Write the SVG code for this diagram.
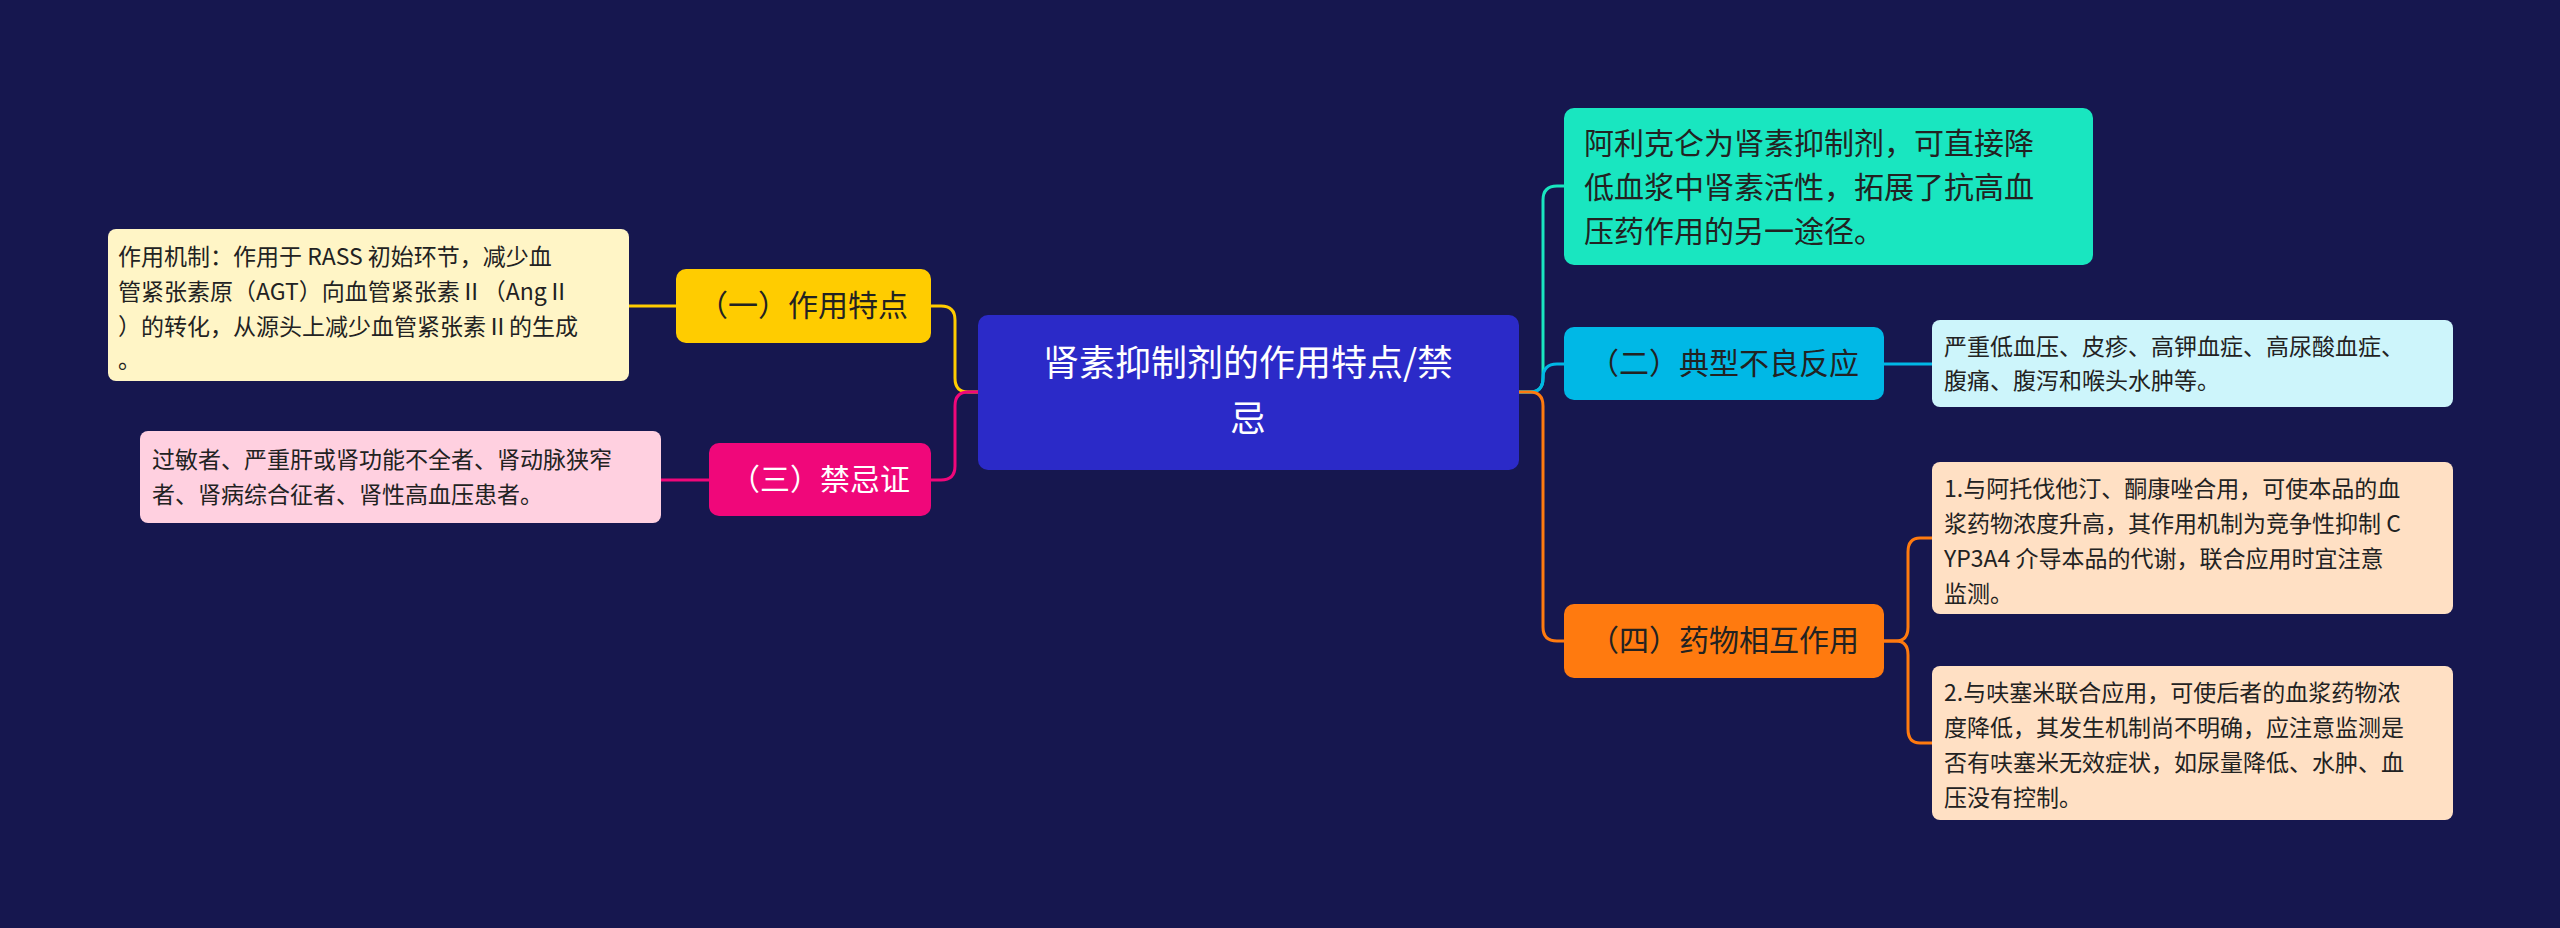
<svg xmlns="http://www.w3.org/2000/svg" width="2560" height="928" viewBox="0 0 2560 928">
<style>
text{font-family:"Noto Sans CJK SC","Noto Sans",sans-serif;}
.m{font-size:30px;fill:#222;}
.l{font-size:23px;fill:#222;}
.c{fill:none;stroke-width:3;}
</style>
<rect width="2560" height="928" fill="#16174f"/>
<g id="connectors">
<path class="c" stroke="#19e6c0" d="M1519,392 H1530 Q1543,392 1543,378 V200 Q1543,186 1557,186 H1564"/>
<path class="c" stroke="#00b8e6" d="M1519,392 H1530 Q1543,392 1543,378 V378 Q1543,364 1557,364 H1564"/>
<path class="c" stroke="#ff7a0f" d="M1519,392 H1530 Q1543,392 1543,406 V627 Q1543,641 1557,641 H1564"/>
<path class="c" stroke="#ffcc00" d="M978,392 H968 Q955,392 955,378 V320 Q955,306 941,306 H931"/>
<path class="c" stroke="#f0077a" d="M978,392 H968 Q955,392 955,406 V466 Q955,480 941,480 H931"/>
<path class="c" stroke="#00b8e6" d="M1884,364 H1932"/>
<path class="c" stroke="#ff7a0f" d="M1884,641 H1896 Q1908,641 1908,627 V552 Q1908,538 1920,538 H1932"/>
<path class="c" stroke="#ff7a0f" d="M1884,641 H1896 Q1908,641 1908,655 V729 Q1908,743 1920,743 H1932"/>
<path class="c" stroke="#ffcc00" d="M676,306 H629"/>
<path class="c" stroke="#f0077a" d="M709,480 H661"/>
</g>
<g id="center"><rect x="978" y="315" width="541" height="155" rx="10" fill="#2b2ac8"/>
<text x="1248" y="376" font-size="36" fill="#fff" text-anchor="middle">肾素抑制剂的作用特点/禁</text>
<text x="1248" y="432" font-size="36" fill="#fff" text-anchor="middle">忌</text></g>
<g id="n1"><rect x="1564" y="108" width="529" height="157" rx="10" fill="#19e6c0"/>
<text class="m" x="1584" y="154">阿利克仑为肾素抑制剂，可直接降</text>
<text class="m" x="1584" y="198">低血浆中肾素活性，拓展了抗高血</text>
<text class="m" x="1584" y="242">压药作用的另一途径。</text></g>
<g id="n2"><rect x="1564" y="327" width="320" height="73" rx="10" fill="#00b8e6"/>
<text class="m" x="1724" y="374" text-anchor="middle">（二）典型不良反应</text></g>
<g id="n2a"><rect x="1932" y="320" width="521" height="87" rx="8" fill="#cdf5fb"/>
<text class="l" x="1944" y="355">严重低血压、皮疹、高钾血症、高尿酸血症、</text>
<text class="l" x="1944" y="389">腹痛、腹泻和喉头水肿等。</text></g>
<g id="n4"><rect x="1564" y="604" width="320" height="74" rx="10" fill="#ff7a0f"/>
<text class="m" x="1724" y="651" text-anchor="middle">（四）药物相互作用</text></g>
<g id="n4a"><rect x="1932" y="462" width="521" height="152" rx="8" fill="#ffe0c4"/>
<text class="l" x="1944" y="497">1.与阿托伐他汀、酮康唑合用，可使本品的血</text>
<text class="l" x="1944" y="532">浆药物浓度升高，其作用机制为竞争性抑制 C</text>
<text class="l" x="1944" y="567">YP3A4 介导本品的代谢，联合应用时宜注意</text>
<text class="l" x="1944" y="602">监测。</text></g>
<g id="n4b"><rect x="1932" y="666" width="521" height="154" rx="8" fill="#ffe0c4"/>
<text class="l" x="1944" y="701">2.与呋塞米联合应用，可使后者的血浆药物浓</text>
<text class="l" x="1944" y="736">度降低，其发生机制尚不明确，应注意监测是</text>
<text class="l" x="1944" y="771">否有呋塞米无效症状，如尿量降低、水肿、血</text>
<text class="l" x="1944" y="806">压没有控制。</text></g>
<g id="n3"><rect x="676" y="269" width="255" height="74" rx="10" fill="#ffcc00"/>
<text class="m" x="803" y="316" text-anchor="middle">（一）作用特点</text></g>
<g id="n3a"><rect x="108" y="229" width="521" height="152" rx="8" fill="#fff5c6"/>
<text class="l" x="118" y="265">作用机制：作用于 RASS 初始环节，减少血</text>
<text class="l" x="118" y="300">管紧张素原（AGT）向血管紧张素Ⅱ（AngⅡ</text>
<text class="l" x="118" y="335">）的转化，从源头上减少血管紧张素Ⅱ的生成</text>
<text class="l" x="118" y="368">。</text></g>
<g id="n5"><rect x="709" y="443" width="222" height="73" rx="10" fill="#f0077a"/>
<text x="820" y="490" font-size="30" fill="#fff" text-anchor="middle">（三）禁忌证</text></g>
<g id="n5a"><rect x="140" y="431" width="521" height="92" rx="8" fill="#ffd0e0"/>
<text class="l" x="152" y="468">过敏者、严重肝或肾功能不全者、肾动脉狭窄</text>
<text class="l" x="152" y="503">者、肾病综合征者、肾性高血压患者。</text></g>
</svg>
